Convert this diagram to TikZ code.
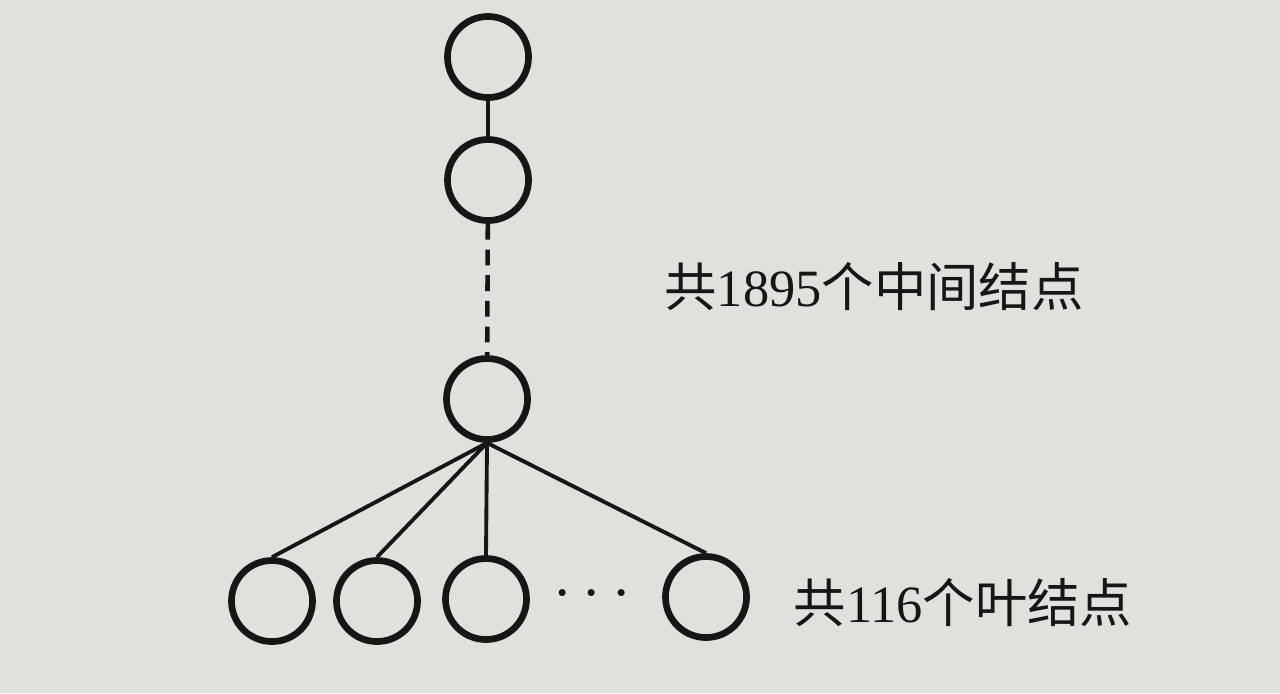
\documentclass[tikz,border=0pt]{standalone}
\usepackage{fontspec}
\setmainfont{Liberation Serif}
\newfontfamily\cjk{Noto Sans CJK SC}
\definecolor{paper}{RGB}{224,224,221}
\definecolor{ink}{RGB}{22,22,22}
\begin{document}
\begin{tikzpicture}[
    x=0.01cm,y=-0.01cm,
    vertex/.style={circle, draw=ink, line width=1.9pt, fill=paper, minimum size=0.81cm, inner sep=0pt},
    edge/.style={draw=ink, line width=1.1pt},
    note/.style={text=ink, font=\fontsize{14.9}{17}\selectfont, inner sep=0pt}
    ]
    \fill[paper] (0, 0) rectangle (1280, 693);
    % chain of inner nodes
    \node[vertex] (top) at (488, 57) {};
    \node[vertex] (second) at (488, 180) {};
    \node[vertex] (parent) at (487, 399) {};
    % leaves
    \node[vertex] (leafa) at (272, 601) {};
    \node[vertex] (leafb) at (377, 601) {};
    \node[vertex] (leafc) at (486, 599) {};
    \node[vertex] (leafd) at (706, 597) {};
    \node[text=ink, inner sep=0pt, scale=1.3] (dots) at (592, 595) {\Large$\cdots$};
    \draw[edge] (top) -- (second);
    \draw[edge, line width=1.3pt, dash pattern=on 4.5pt off 2.8pt] (second) -- (parent);
    \draw[edge] (parent.south) -- (leafa.north);
    \draw[edge] (parent.south) -- (leafb.north);
    \draw[edge] (parent.south) -- (leafc.north);
    \draw[edge] (parent.south) -- (leafd.north);
    \node[note] (inner) at (874, 287) {{\cjk 共}1895{\cjk 个中间结点}};
    \node[note] (leaves) at (963, 603) {{\cjk 共}116{\cjk 个叶结点}};
  \end{tikzpicture}
\end{document}
